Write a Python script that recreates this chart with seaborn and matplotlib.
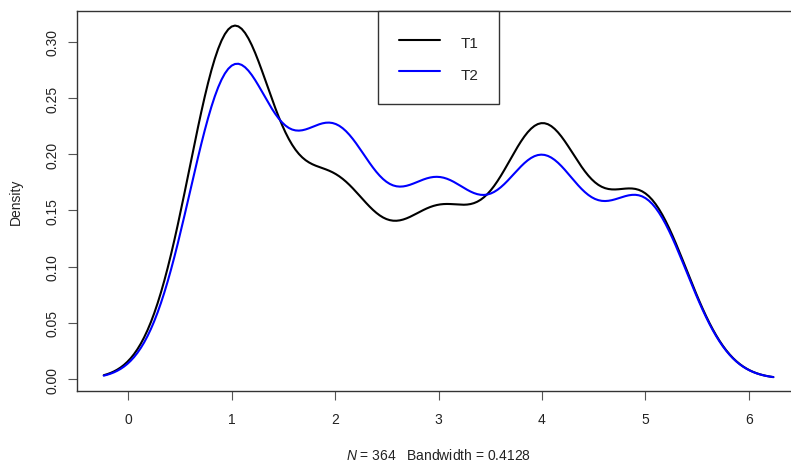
import numpy as np
import matplotlib
matplotlib.use("Agg")
import matplotlib.pyplot as plt
import seaborn as sns

# respostas na escala 1-5, contagem de cada nivel (T1 e T2)
niveis = [1, 2, 3, 4, 5]
contagem_t1 = [115, 60, 51, 80, 58]
contagem_t2 = [101, 77, 60, 69, 57]
bandwidth = 0.4128
n_obs = 364

xticks = [0, 1, 2, 3, 4, 5, 6]
yticks = [0.00, 0.05, 0.10, 0.15, 0.20, 0.25, 0.30]
ytick_labels = ['0.00', '0.05', '0.10', '0.15', '0.20', '0.25', '0.30']

t1 = np.repeat(niveis, contagem_t1)
t2 = np.repeat(niveis, contagem_t2)

sns.set_style('white')
plt.rcParams['font.family'] = ['Liberation Sans', 'DejaVu Sans']
plt.rcParams['mathtext.fontset'] = 'custom'
plt.rcParams['mathtext.it'] = 'Liberation Sans:italic'
plt.rcParams['mathtext.rm'] = 'Liberation Sans'

fig = plt.figure(figsize=(7.91, 4.64), dpi=100)
# eixo vai um pouco alem da borda direita, como no original (recortado)
ax = fig.add_axes([76.7 / 791, 1 - 391.7 / 464, (800.4 - 76.7) / 791, (391.7 - 12.3) / 464])

# mesmo bandwidth do R (0.4128) para as duas curvas
sns.kdeplot(x=t1, bw_method=bandwidth / np.std(t1, ddof=1), color='black', lw=1.5, label='T1', ax=ax)
sns.kdeplot(x=t2, bw_method=bandwidth / np.std(t2, ddof=1), color='#0000ff', lw=1.5, label='T2', ax=ax)

ax.set_xlim(-0.5, 6.5)
ax.set_ylim(-0.0104, 0.3273)
ax.set_xticks(xticks)
ax.set_yticks(yticks)
ax.set_yticklabels(ytick_labels, rotation=90, va='center')

for lado in ['left', 'bottom', 'top', 'right']:
    ax.spines[lado].set_color('#333333')
    ax.spines[lado].set_linewidth(1.0)

ax.tick_params(axis='both', direction='out', length=6.5, width=0.8, color='#555555',
               labelsize=10, labelcolor='#222222', bottom=True, left=True)
ax.tick_params(axis='x', pad=9)
ax.tick_params(axis='y', pad=6)

ax.set_ylabel('Density', fontsize=10, color='#222222')
ax.yaxis.set_label_coords(-0.074, 0.5)
ax.set_xlabel(r'$N$ = %d   Bandwidth = %.4f' % (n_obs, bandwidth), fontsize=10,
              color='#222222', labelpad=15)

leg = ax.legend(loc='upper left', bbox_to_anchor=(378.3 / 791, 1 - 12.3 / 464),
                bbox_transform=fig.transFigure, fontsize=11, frameon=True, fancybox=False,
                edgecolor='#333333', framealpha=1, borderpad=1.37, handlelength=2.7,
                handleheight=1.61, handletextpad=1.3, labelspacing=0.77, borderaxespad=0)
leg.get_frame().set_linewidth(1.0)

fig.savefig('out.png', dpi=100)
